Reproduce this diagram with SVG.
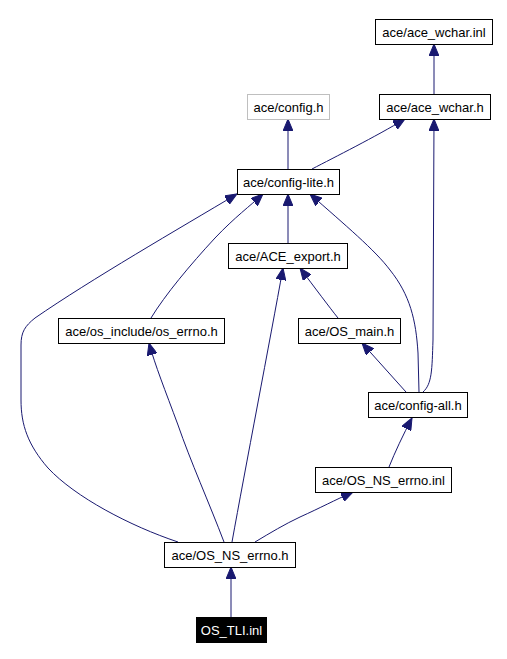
<svg xmlns="http://www.w3.org/2000/svg" width="507" height="659" viewBox="0 0 507 659">
<style>
  .box { fill: #ffffff; stroke: #000000; stroke-width: 1; }
  .gray { stroke: #bfbfbf; }
  .dark { fill: #000000; stroke: #000000; }
  .lbl { font-family: "Liberation Sans", Arial, sans-serif; font-size: 13px; fill: #000000; text-anchor: middle; }
  .wlbl { fill: #ffffff; }
  .edge { fill: none; stroke: #191970; stroke-width: 1; marker-end: url(#arr); }
</style>
<defs>
  <marker id="arr" viewBox="0 0 12 10" refX="12" refY="5" markerWidth="12" markerHeight="10" markerUnits="userSpaceOnUse" orient="auto">
    <path d="M0,0 L12,5 L0,10 z" fill="#191970" stroke="#191970" stroke-width="1"/>
  </marker>
</defs>
<rect width="507" height="659" fill="#ffffff"/>
<g id="edges">
  <path class="edge" d="M434,94 L434,44"/>
  <path class="edge" d="M288,169 L288,119"/>
  <path class="edge" d="M312,169 C335,157 375,137 405,119"/>
  <path class="edge" d="M423,392 C432,384 432,370 433,340 L434,119"/>
  <path class="edge" d="M419,392 L418,353 C416,320 410,295 390,270 C375,250 345,225 310,194"/>
  <path class="edge" d="M338,318 C330,308 315,288 300,268"/>
  <path class="edge" d="M406,392 L362,343"/>
  <path class="edge" d="M288,243 L288,194"/>
  <path class="edge" d="M151,318 C165,295 190,265 215,238 C235,217 250,206 263,194"/>
  <path class="edge" d="M178,542 C130,526 75,497 48,468 C28,445 21,425 21,400 L21,345 C21,332 25,326 35,318 C90,280 180,228 237,194"/>
  <path class="edge" d="M224,542 C210,505 190,460 178,425 C165,390 155,365 149,343"/>
  <path class="edge" d="M232,542 C245,470 270,340 283,268"/>
  <path class="edge" d="M255,542 C270,533 285,524 300,517 C320,508 335,500 353,492"/>
  <path class="edge" d="M389,467 C395,452 403,435 412,418"/>
  <path class="edge" d="M231,617 L231,567"/>
</g>
<g id="node_ace_wchar_inl">
  <rect class="box" x="375.5" y="19.5" width="117" height="25"/>
  <text class="lbl" x="434" y="36.5">ace/ace_wchar.inl</text>
</g>
<g id="node_ace_wchar_h">
  <rect class="box" x="379.5" y="94.5" width="111" height="25"/>
  <text class="lbl" x="435" y="111.5">ace/ace_wchar.h</text>
</g>
<g id="node_config_h">
  <rect class="box gray" x="247.5" y="94.5" width="82" height="25"/>
  <text class="lbl" x="288.5" y="111.5">ace/config.h</text>
</g>
<g id="node_config_lite_h">
  <rect class="box" x="237.5" y="169.5" width="102" height="25"/>
  <text class="lbl" x="288.5" y="186.5">ace/config-lite.h</text>
</g>
<g id="node_ACE_export_h">
  <rect class="box" x="228.5" y="243.5" width="119" height="25"/>
  <text class="lbl" x="288" y="260.5">ace/ACE_export.h</text>
</g>
<g id="node_os_errno_h">
  <rect class="box" x="58.5" y="318.5" width="166" height="25"/>
  <text class="lbl" x="141.5" y="335.5">ace/os_include/os_errno.h</text>
</g>
<g id="node_OS_main_h">
  <rect class="box" x="298.5" y="318.5" width="102" height="25"/>
  <text class="lbl" x="349.5" y="335.5">ace/OS_main.h</text>
</g>
<g id="node_config_all_h">
  <rect class="box" x="368.5" y="392.5" width="99" height="25"/>
  <text class="lbl" x="418" y="409.5">ace/config-all.h</text>
</g>
<g id="node_OS_NS_errno_inl">
  <rect class="box" x="315.5" y="467.5" width="136" height="25"/>
  <text class="lbl" x="383.5" y="484.5">ace/OS_NS_errno.inl</text>
</g>
<g id="node_OS_NS_errno_h">
  <rect class="box" x="164.5" y="542.5" width="131" height="25"/>
  <text class="lbl" x="230" y="559.5">ace/OS_NS_errno.h</text>
</g>
<g id="node_OS_TLI_inl">
  <rect class="box dark" x="196.5" y="617.5" width="70" height="25"/>
  <text class="lbl wlbl" x="231.5" y="634.5">OS_TLI.inl</text>
</g>
</svg>
